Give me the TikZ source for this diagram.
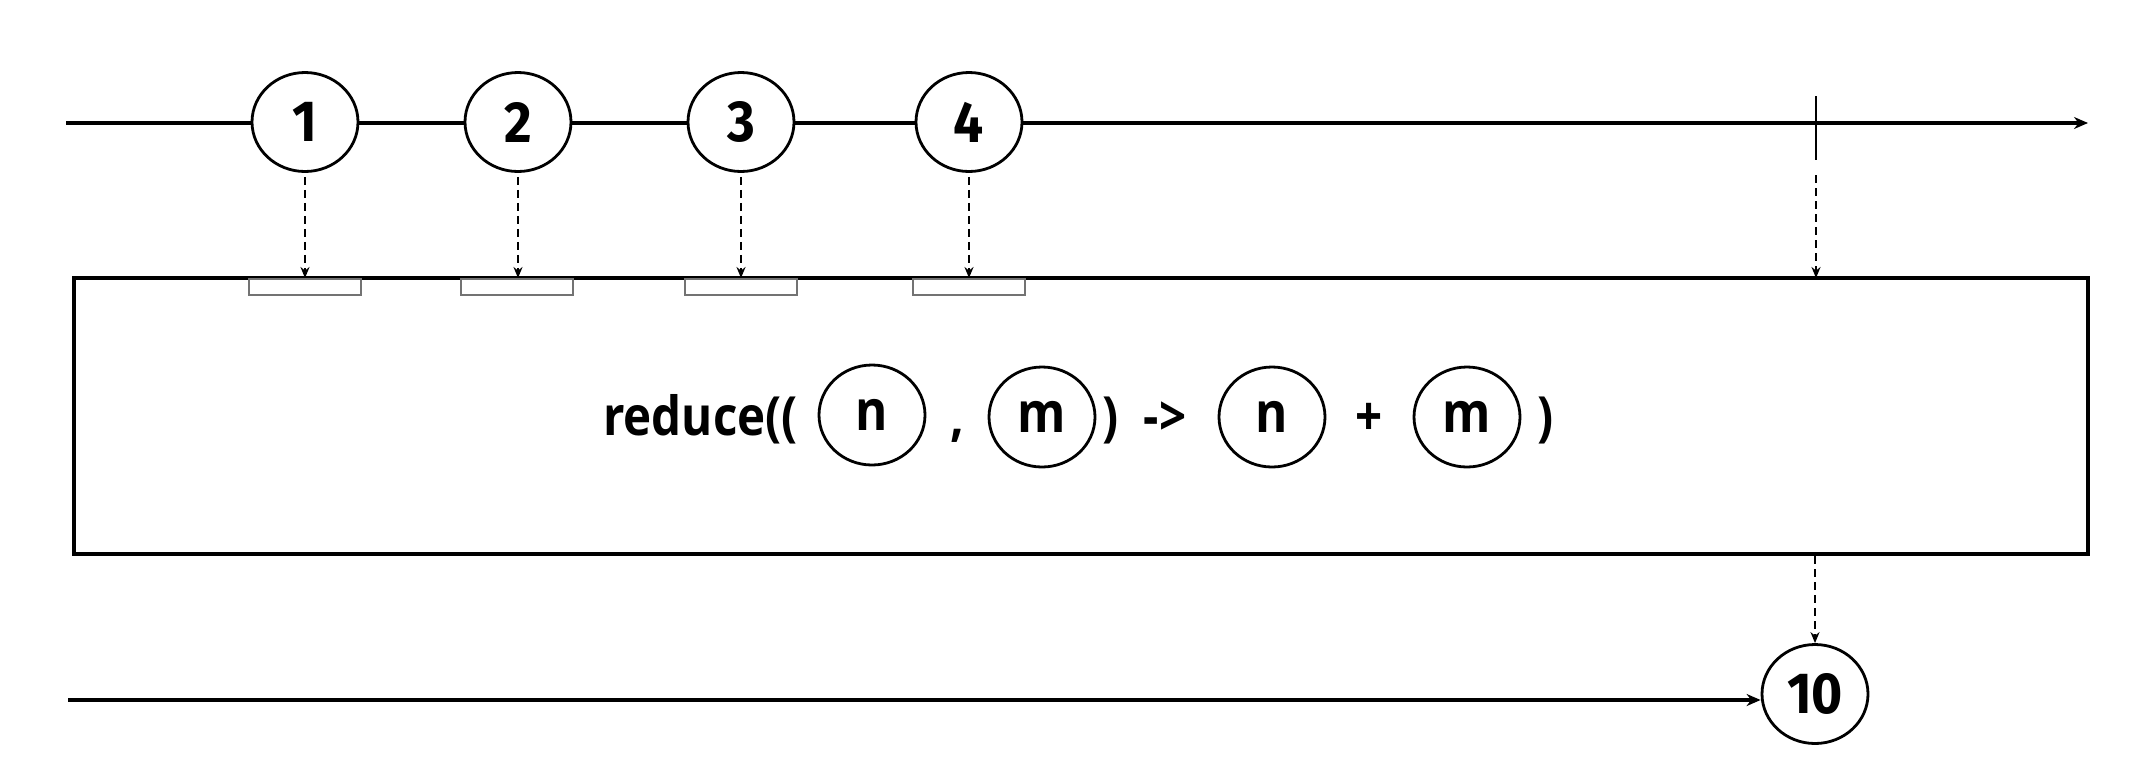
\documentclass[tikz,border=0pt]{standalone}
\usepackage{fontspec}
\setmainfont{Open Sans}
\newfontfamily\formfont{Open Sans}[FakeStretch=0.88]
\newfontfamily\digitfont{Fira Sans}[FakeStretch=0.92]
\usetikzlibrary{shapes.geometric,arrows.meta}
\begin{document}
\begin{tikzpicture}[x=1pt,y=-1pt,
  ball/.style={ellipse,draw=black,line width=2.8pt,fill=white,minimum width=106pt,minimum height=99pt,inner sep=0pt,
    font=\digitfont\bfseries\fontsize{58}{60}\selectfont},
  sball/.style={ellipse,draw=black,line width=2.8pt,fill=white,minimum width=106pt,minimum height=100pt,inner sep=0pt,
    font=\formfont\bfseries\fontsize{56}{58}\selectfont},
  flow/.style={line width=3.2pt,-{Stealth[length=14pt,width=12pt]}},
  feed/.style={line width=2pt,dash pattern=on 8pt off 5pt,-{Stealth[length=11pt,width=9pt]}},
  slot/.style={draw=black!55,line width=1.6pt},
  op/.style={anchor=base,inner sep=0pt,font=\formfont\bfseries\fontsize{54}{56}\selectfont}]
\useasboundingbox (0,0) rectangle (2152,764);
% operator box
\draw[line width=3.2pt] (74,278) rectangle (2088,554);
% top timeline
\coordinate (tStart) at (66,123);
\coordinate (tEnd) at (2088,123);
\draw[flow] (tStart) -- (tEnd);
\node[ball] (b1) at (305,122) {1};
\node[ball] (b2) at (518,122) {2};
\node[ball] (b3) at (741,122) {3};
\node[ball] (b4) at (969,122) {4};
% completion tick
\coordinate (tickT) at (1816,96);
\coordinate (tickB) at (1816,160);
\draw[line width=2.2pt] (tickT) -- (tickB);
% slots
\foreach \x in {305,517,741,969}{
  \draw[slot] (\x-56,279) rectangle (\x+56,295);
}
% feed arrows into the box
\coordinate (in1) at (305,278);
\coordinate (in2) at (518,278);
\coordinate (in3) at (741,278);
\coordinate (in4) at (969,278);
\coordinate (inE) at (1816,278);
\coordinate (tickD) at (1816,175);
\draw[feed] (b1.south) ++(0,4) -- (in1);
\draw[feed] (b2.south) ++(0,4) -- (in2);
\draw[feed] (b3.south) ++(0,4) -- (in3);
\draw[feed] (b4.south) ++(0,4) -- (in4);
\draw[feed] (tickD) -- (inE);
% formula
\node[op,anchor=base west] (red) at (603,435) {reduce((};
\node[sball] (n1) at (872,415) {n};
\node[op] (comma) at (957,435) {,};
\node[sball] (m1) at (1042,417) {m};
\node[op] (cp1) at (1111,435) {)};
\node[op] (arr) at (1165,435) {->};
\node[sball] (n2) at (1272,417) {n};
\node[op] (plus) at (1369,435) {+};
\node[sball] (m2) at (1467,417) {m};
\node[op] (cp2) at (1546,435) {)};
% output
\node[ball] (r) at (1815,694) {10};
\coordinate (outTop) at (1815,556);
\draw[feed] (outTop) -- (r.north);
\coordinate (bStart) at (68,700);
\draw[flow] (bStart) -- (r.west |- bStart);
\end{tikzpicture}
\end{document}
